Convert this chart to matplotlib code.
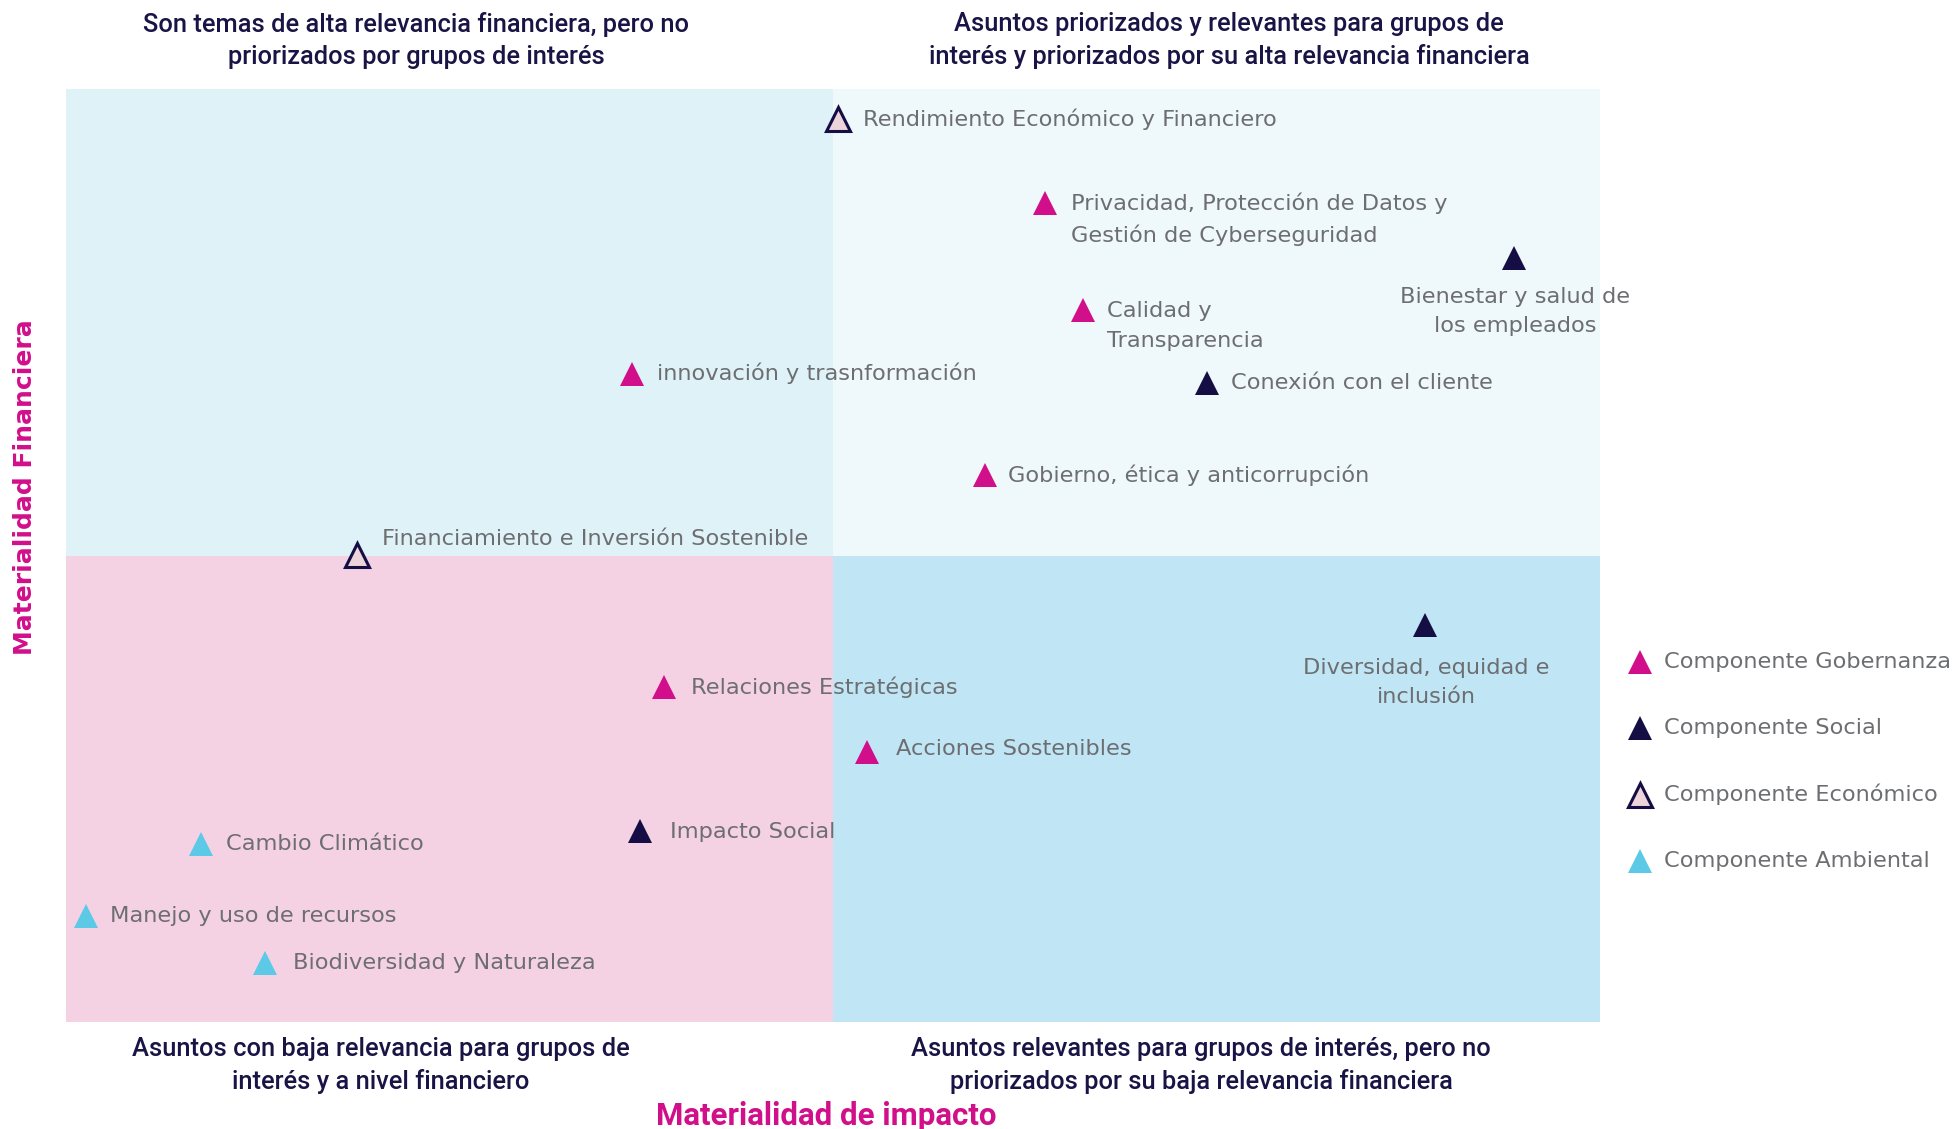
import matplotlib
matplotlib.use("Agg")
import matplotlib.pyplot as plt
from matplotlib.patches import Rectangle

plt.rcParams['font.family'] = ['DejaVu Sans']

# Temas materiales: nombre, componente, materialidad de impacto (x), materialidad financiera (y)
temas = [
    "Rendimiento Económico y Financiero",
    "Privacidad, Protección de Datos y\nGestión de Cyberseguridad",
    "Bienestar y salud de\nlos empleados",
    "Calidad y\nTransparencia",
    "Conexión con el cliente",
    "innovación y trasnformación",
    "Gobierno, ética y anticorrupción",
    "Financiamiento e Inversión Sostenible",
    "Diversidad, equidad e\ninclusión",
    "Relaciones Estratégicas",
    "Acciones Sostenibles",
    "Impacto Social",
    "Cambio Climático",
    "Manejo y uso de recursos",
    "Biodiversidad y Naturaleza",
]
componente = ["eco", "gob", "soc", "gob", "soc", "gob", "gob", "eco",
              "soc", "gob", "gob", "soc", "amb", "amb", "amb"]
impacto = [5.03, 6.38, 9.44, 6.63, 7.44, 3.69, 5.99, 1.90, 8.86, 3.90, 5.22, 3.74, 0.88, 0.13, 1.30]
financiera = [9.68, 8.78, 8.19, 7.63, 6.85, 6.95, 5.86, 5.01, 4.26, 3.59, 2.89, 2.05, 1.91, 1.14, 0.63]

comp_keys = ["gob", "soc", "eco", "amb"]
comp_names = ["Componente Gobernanza", "Componente Social",
              "Componente Económico", "Componente Ambiental"]

cuadrantes = [
    "Son temas de alta relevancia financiera, pero no\npriorizados por grupos de interés",
    "Asuntos priorizados y relevantes para grupos de\ninterés y priorizados por su alta relevancia financiera",
    "Asuntos con baja relevancia para grupos de\ninterés y a nivel financiero",
    "Asuntos relevantes para grupos de interés, pero no\npriorizados por su baja relevancia financiera",
]

# estilos
fill = {"gob": "#D10F8A", "soc": "#150E45", "eco": "#EDD3DA", "amb": "#5CC9E7"}
edge = {"gob": "#D10F8A", "soc": "#150E45", "eco": "#150E45", "amb": "#5CC9E7"}
lw = {"gob": 0, "soc": 0, "eco": 2.2, "amb": 0}
# posición de etiquetas (offset en puntos, ha)
lab_pos = [
    ((18, 0), "left"), ((19, -12), "left"), ((1, -38.5), "center"), ((17, -11.5), "left"),
    ((17, 0), "left"), ((18, 0), "left"), ((17, 0), "left"), ((18, 11), "left"),
    ((1, -41.5), "center"), ((19, 0), "left"), ((21, 2.5), "left"), ((22, -1), "left"),
    ((18, 0), "left"), ((17, 0), "left"), ((20, 0), "left"),
]

txt_gray = "#6D6E71"
navy = "#1A1446"
pink = "#D10F8A"
lab_size = 16.2

fig = plt.figure(figsize=(19.59, 11.29), dpi=100)
ax = fig.add_axes([66 / 1959, 1 - 1022 / 1129, (1600 - 66) / 1959, (1022 - 89) / 1129])
ax.set_xlim(0, 10)
ax.set_ylim(0, 10)
ax.axis("off")

ax.add_patch(Rectangle((0, 5), 5, 5, color="#DFF2F8", lw=0, zorder=0))
ax.add_patch(Rectangle((5, 5), 5, 5, color="#EFF8FB", lw=0, zorder=0))
ax.add_patch(Rectangle((0, 0), 5, 5, color="#F4D2E4", lw=0, zorder=0))
ax.add_patch(Rectangle((5, 0), 5, 5, color="#C0E6F5", lw=0, zorder=0))

for i, t in enumerate(temas):
    c = componente[i]
    ax.plot(impacto[i], financiera[i], marker="^", ms=17, mfc=fill[c], mec=edge[c],
            mew=lw[c], ls="none", zorder=3, clip_on=False)
    off, ha = lab_pos[i]
    ax.annotate(t, (impacto[i], financiera[i]), xytext=off, textcoords="offset points",
                ha=ha, va="center", fontsize=lab_size, color=txt_gray, linespacing=1.58,
                multialignment="center" if ha == "center" else "left", zorder=4)

# títulos de cuadrantes
head_font = ["Roboto", "DejaVu Sans"]
head_kw = dict(ha="center", va="center", fontsize=18.4, color=navy, family=head_font,
               fontweight="medium", linespacing=1.42)
fig.text(416 / 1959, 1 - 40.5 / 1129, cuadrantes[0], **head_kw)
fig.text(1229 / 1959, 1 - 40.5 / 1129, cuadrantes[1], **head_kw)
fig.text(381 / 1959, 1 - 1065.5 / 1129, cuadrantes[2], **head_kw)
fig.text(1201 / 1959, 1 - 1065.5 / 1129, cuadrantes[3], **head_kw)

fig.text(826 / 1959, 1 - 1116 / 1129, "Materialidad de impacto", ha="center", va="center",
         fontsize=22.5, color=pink, fontweight="bold", family=head_font)
fig.text(25 / 1959, 1 - 487 / 1129, "Materialidad Financiera", ha="center", va="center",
         fontsize=18, color=pink, fontweight="bold", rotation=90)

# leyenda
for k, key in enumerate(comp_keys):
    y = 1 - (662 + k * 66.3) / 1129
    fig.lines.append(plt.Line2D([1640 / 1959], [y], marker="^", ms=17, mfc=fill[key],
                                mec=edge[key], mew=lw[key], ls="none",
                                transform=fig.transFigure))
    fig.text(1664 / 1959, y, comp_names[k], ha="left", va="center", fontsize=lab_size,
             color=txt_gray)

fig.savefig("out.png", dpi=100)
